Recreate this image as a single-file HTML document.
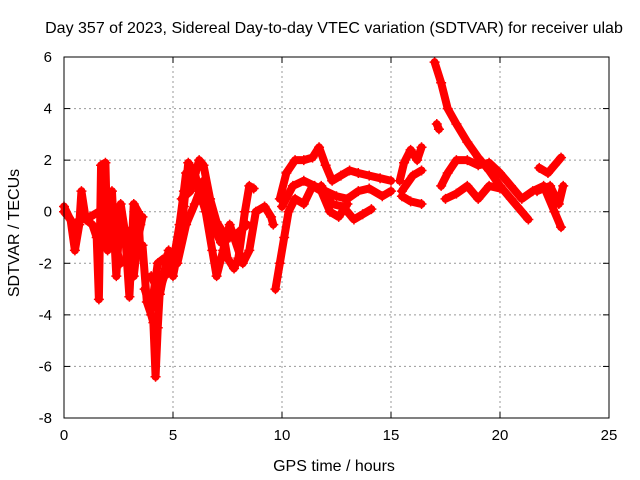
<!DOCTYPE html>
<html><head><meta charset="utf-8"><style>
body{margin:0;background:#fff}
svg{display:block;font-family:"Liberation Sans",sans-serif;font-size:15px}
</style></head><body>
<svg id="chart" width="640" height="480" viewBox="0 0 640 480">
<text x="334" y="33" text-anchor="middle" font-size="16">Day 357 of 2023, Sidereal Day-to-day VTEC variation (SDTVAR) for receiver ulab</text>
<text x="334" y="471" text-anchor="middle" font-size="16">GPS time / hours</text>
<text transform="translate(19,233) rotate(-90)" text-anchor="middle" font-size="16">SDTVAR / TECUs</text>
<g id="grid"></g><g id="ticks"></g><g id="marks"></g>
<rect x="64" y="57" width="545" height="361" fill="none" stroke="#000" stroke-width="1"/>
</svg>
<script>
const xTicks=[0,5,10,15,20,25];
const yTicks=[-8,-6,-4,-2,0,2,4,6];
const track1=[[0,0],[0.3,-0.3],[0.5,-1.5],[0.7,-0.5],[0.8,0.8],[1.0,-0.3],[1.3,-0.5],[1.5,-1.0],[1.6,-3.4],[1.7,1.8],[1.9,1.9],[2.0,-1.5],[2.2,0.8],[2.4,-2.5],[2.6,0.3],[2.8,-0.8],[3.0,-3.3],[3.2,0.3],[3.4,0],[3.5,-1.5]];
const track2=[[0,0.2],[0.4,-0.5],[0.8,-0.3],[1.2,-0.2],[1.6,0.0],[2.0,-0.6],[2.5,-0.5],[3.0,-0.8],[3.5,-0.5]];
const track2b=[[1.8,1.5],[2.0,0.5],[2.3,-1.2],[2.6,-2.0],[2.9,-1.8],[3.2,-2.5],[3.4,-1.0],[3.6,-0.2]];
const track3=[[3.6,-1.3],[3.8,-3.5],[4.0,-4.0],[4.1,-4.3],[4.2,-6.4],[4.3,-4.5],[4.4,-3.0],[4.6,-2.5],[4.9,-2.3],[5.1,-1.5],[5.3,-0.5],[5.5,0.8],[5.6,1.5]];
const track4=[[3.7,-3.0],[4.0,-3.8],[4.3,-2.0],[4.6,-1.8],[5.0,-2.5],[5.3,-1.2],[5.5,0.2],[5.7,1.9],[6.0,1.5],[6.2,0.8],[6.5,0],[6.8,-1.5],[7.0,-2.5],[7.3,-1.5],[7.6,-0.5],[7.8,-1.0],[8.2,-2.0],[8.5,-1.5],[8.8,0],[9.2,0.2],[9.5,-0.2],[9.6,-0.5]];
const track5=[[5.4,0.5],[5.8,0.8],[6.2,2.0],[6.4,1.8],[6.7,0.5],[7.0,-0.4],[7.3,-0.8],[7.5,-1.8],[7.8,-2.2],[8.0,-1.8],[8.3,0],[8.5,1.0],[8.7,0.9]];
const track5b=[[4.0,-2.5],[4.4,-3.2],[4.8,-1.5],[5.2,-2.0],[5.6,-0.5],[6.0,0.3],[6.4,1.2],[6.8,-0.5],[7.2,-1.2],[7.6,-1.0],[8.0,-0.8],[8.4,-0.5]];
const track6=[[9.7,-3.0],[9.9,-2.0],[10.1,-1.0],[10.3,0],[10.6,0.5],[11.0,0.3],[11.4,1.0],[11.8,0.8],[12.2,0.0],[12.6,-0.2],[13.0,0.3]];
const track7=[[9.9,0.5],[10.2,1.5],[10.6,2.0],[11.0,2.0],[11.4,2.1],[11.7,2.5],[12.0,1.8],[12.3,1.2],[12.7,1.4],[13.1,1.6],[13.5,1.5],[14.0,1.4],[14.5,1.3],[15.0,1.2]];
const track8=[[10.0,0.2],[10.5,1.0],[11.0,1.2],[11.5,1.0],[12.0,0.8],[12.5,0.6],[13.0,0.5],[13.5,0.8],[14.0,0.9],[14.6,0.6],[15.0,0.8]];
const track9=[[11.8,1.0],[12.3,0.3],[12.8,0.2],[13.3,-0.3],[13.7,-0.1],[14.1,0.1]];
const track10=[[15.4,1.2],[15.6,1.9],[15.9,2.4],[16.2,2.0],[16.4,2.5]];
const track11=[[15.5,0.8],[16.0,1.4],[16.4,1.6]];
const track12=[[15.5,0.6],[15.9,0.4],[16.4,0.3]];
const track13=[[17.0,5.8],[17.3,5.0],[17.6,4.0],[18.0,3.4],[18.5,2.7],[19.0,2.1],[19.5,1.6],[20.0,1.0],[20.5,0.5],[21.0,0.0],[21.3,-0.3]];
const track14=[[17.1,3.4],[17.2,3.2]];
const track15=[[17.3,1.0],[17.6,1.5],[18.0,2.0],[18.5,2.0],[19.0,1.8],[19.5,1.9],[20.0,1.5],[20.5,1.0],[21.0,0.5],[21.5,0.8],[22.0,1.0],[22.5,0.0],[22.8,-0.6]];
const track16=[[17.5,0.5],[18.0,0.7],[18.5,1.0],[19.0,0.5],[19.5,1.0],[20.0,0.9]];
const track17=[[21.8,1.7],[22.2,1.5],[22.5,1.8],[22.8,2.1]];
const track18=[[21.7,0.8],[22.3,1.0],[22.7,0.3],[22.9,1.0]];
const tracks=[track1,track2,track2b,track3,track4,track5,track5b,track6,track7,track8,track9,track10,track11,track12,track13,track14,track15,track16,track17,track18];
const X0=64,X1=609,Y0=418,Y1=57;
function xs(v){return X0+(v-0)/(25-0)*(X1-X0);}
function ys(v){return Y0-(v+8)/(14)*(Y0-Y1);}
const NS="http://www.w3.org/2000/svg";
function mk(t,a,p){const e=document.createElementNS(NS,t);for(const k in a)e.setAttribute(k,a[k]);p.appendChild(e);return e;}
const grid=document.getElementById('grid'),ticks=document.getElementById('ticks'),marks=document.getElementById('marks');
xTicks.forEach(t=>{const x=xs(t);
 if(t>0&&t<25){const g=mk('line',{x1:x,x2:x,y1:Y0,y2:Y1,stroke:'#999','stroke-dasharray':'2,3'},grid);
 
 }
 mk('line',{x1:x,x2:x,y1:Y0,y2:Y0-6,stroke:'#000'},ticks);
 mk('line',{x1:x,x2:x,y1:Y1,y2:Y1+6,stroke:'#000'},ticks);
 const l=mk('text',{x:x,y:Y0+22,'text-anchor':'middle'},ticks);l.textContent=t;
 
 
});
yTicks.forEach(t=>{const y=ys(t);
 if(t>-8&&t<6){const g=mk('line',{x1:X0,x2:X1,y1:y,y2:y,stroke:'#999','stroke-dasharray':'2,3'},grid);
 
 }
 mk('line',{x1:X0,x2:X0+6,y1:y,y2:y,stroke:'#000'},ticks);
 mk('line',{x1:X1,x2:X1-6,y1:y,y2:y,stroke:'#000'},ticks);
 const l=mk('text',{x:X0-12,y:y+5,'text-anchor':'end'},ticks);l.textContent=t;
 
 
});
tracks.forEach((tr,i)=>{
 const pts=tr.map(p=>xs(p[0])+','+ys(p[1])).join(' ');
 const pl=mk('polyline',{points:pts,fill:'none',stroke:'#f00','stroke-width':8,'stroke-linejoin':'round','stroke-linecap':'round'},marks);
 
 
 tr.forEach(p=>{const x=xs(p[0]),y=ys(p[1]);
  const m=mk('path',{d:`M${x-5},${y}h10M${x},${y-5}v10`,stroke:'#f00','stroke-width':1.5},marks);
  
  
 });
});
</script>
</body></html>
